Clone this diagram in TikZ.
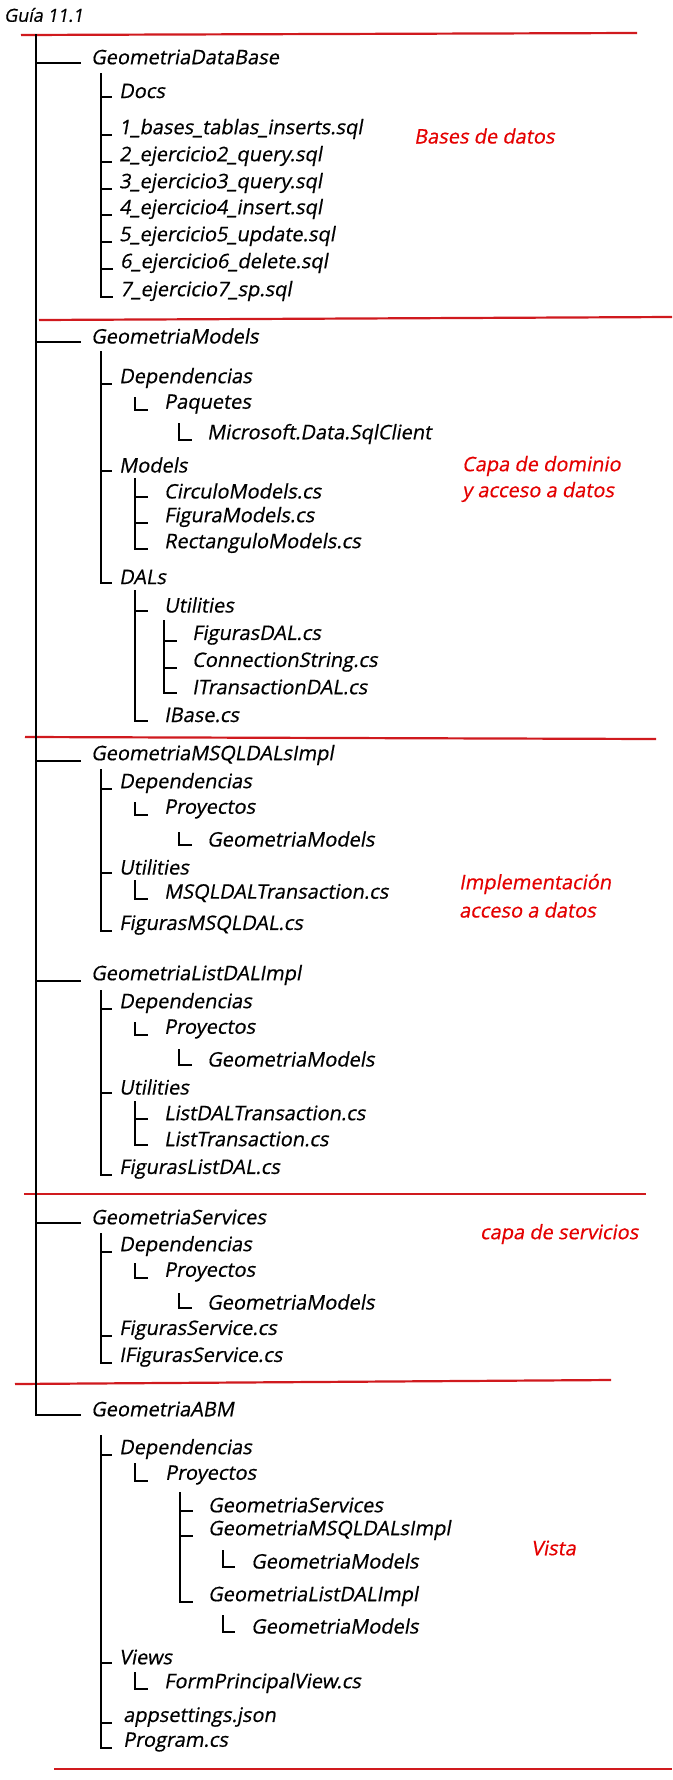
\documentclass[tikz,border=0pt]{standalone}
\usepackage{fontspec}
\newfontfamily\cf{Open Sans}[FakeSlant=0.18, FakeBold=0.6]
\definecolor{sepred}{RGB}{208,26,30}
\definecolor{labred}{RGB}{228,0,0}
\tikzset{
  it/.style={anchor=west, inner sep=0pt, font=\cf\fontsize{20}{24}\selectfont, text=black},
  lab/.style={anchor=west, inner sep=0pt, font=\cf\fontsize{20}{24}\selectfont, text=labred},
  br/.style={line width=2pt, black},
  sep/.style={line width=2.2pt, sepred}
}
\newcommand\brc[3]{\draw[br] (#1) |- ([shift={(-#3,-6pt)}]#2.west);}
\begin{document}
\begin{tikzpicture}[x=1pt,y=-1pt]
\useasboundingbox (0,0) rectangle (672,1780);
% title
\node[it, font=\cf\fontsize{18}{22}\selectfont] (title) at (4,15) {Guía 11.1};
% separators
\coordinate (s1a) at (21,35);   \coordinate (s1b) at (637,33);
\coordinate (s2a) at (39,320);  \coordinate (s2b) at (672,317);
\coordinate (s3a) at (25,737);  \coordinate (s3b) at (656,739);
\coordinate (s4a) at (24,1194); \coordinate (s4b) at (646,1194);
\coordinate (s5a) at (15,1384); \coordinate (s5b) at (611,1380);
\coordinate (s6a) at (54,1769); \coordinate (s6b) at (672,1769);
\foreach \i in {1,...,6} {\draw[sep] (s\i a) -- (s\i b);}
% top-level
\coordinate (m0) at (35.5,34);
\node[it] (db)   at (91,57)   {GeometriaDataBase};
\node[it] (gm)   at (91,336)  {GeometriaModels};
\node[it] (msql) at (91,755)  {GeometriaMSQLDALsImpl};
\node[it] (list) at (91,975)  {GeometriaListDALImpl};
\node[it] (serv) at (91,1217) {GeometriaServices};
\node[it] (abm)  at (91,1409) {GeometriaABM};
\foreach \n in {db,gm,msql,list,serv,abm} {\brc{m0}{\n}{10pt}}
% ---- section 1
\coordinate (v1) at (101,73);
\node[it] (docs) at (119,91)  {Docs};
\node[it] (q1)   at (119,129) {1\_bases\_tablas\_inserts.sql};
\node[it] (q2)   at (119,156) {2\_ejercicio2\_query.sql};
\node[it] (q3)   at (119,183) {3\_ejercicio3\_query.sql};
\node[it] (q4)   at (119,209) {4\_ejercicio4\_insert.sql};
\node[it] (q5)   at (119,236) {5\_ejercicio5\_update.sql};
\node[it] (q6)   at (120,263) {6\_ejercicio6\_delete.sql};
\node[it] (q7)   at (120,291) {7\_ejercicio7\_sp.sql};
\foreach \n in {docs,q1,q2,q3,q4,q5,q6,q7} {\brc{v1}{\n}{7pt}}
\node[lab] (l1) at (414,136) {Bases de datos};
% ---- section 2
\coordinate (v2) at (101,351);
\node[it] (dep2) at (119,378) {Dependencias};
\node[it] (paq)  at (164,404) {Paquetes};
\node[it] (msc)  at (207,434) {Microsoft.Data.SqlClient};
\node[it] (mods) at (119,465) {Models};
\node[it] (circ) at (164,491) {CirculoModels.cs};
\node[it] (fig)  at (164,517) {FiguraModels.cs};
\node[it] (rect) at (164,543) {RectanguloModels.cs};
\node[it] (dals) at (119,577) {DALs};
\node[it] (util2) at (164,605) {Utilities};
\node[it] (fdal) at (192,635) {FigurasDAL.cs};
\node[it] (conn) at (192,662) {ConnectionString.cs};
\node[it] (itd)  at (192,687) {ITransactionDAL.cs};
\node[it] (ibase) at (164,715) {IBase.cs};
\foreach \n in {dep2,mods,dals} {\brc{v2}{\n}{7pt}}
\coordinate (v2a) at (135,397); \brc{v2a}{paq}{16pt}
\coordinate (v2b) at (179,423); \brc{v2b}{msc}{15pt}
\coordinate (v2c) at (135,478);
\foreach \n in {circ,fig,rect} {\brc{v2c}{\n}{16pt}}
\coordinate (v2d) at (135,590);
\foreach \n in {util2,ibase} {\brc{v2d}{\n}{16pt}}
\coordinate (v2e) at (164,620);
\foreach \n in {fdal,conn,itd} {\brc{v2e}{\n}{15pt}}
\node[lab] (l2a) at (462,466) {Capa de dominio};
\node[lab] (l2b) at (462,492) {y acceso a datos};
% ---- section 3
\coordinate (v3) at (101,769);
\node[it] (dep3) at (119,783) {Dependencias};
\node[it] (pro3) at (164,809) {Proyectos};
\node[it] (gm3)  at (207,839) {GeometriaModels};
\node[it] (util3) at (119,867) {Utilities};
\node[it] (mtr)  at (164,893) {MSQLDALTransaction.cs};
\node[it] (fms)  at (119,925) {FigurasMSQLDAL.cs};
\foreach \n in {dep3,util3,fms} {\brc{v3}{\n}{7pt}}
\coordinate (v3a) at (135,802); \brc{v3a}{pro3}{16pt}
\coordinate (v3b) at (179,832); \brc{v3b}{gm3}{15pt}
\coordinate (v3c) at (135,880); \brc{v3c}{mtr}{16pt}
\node[lab] (l3a) at (459,884) {Implementación};
\node[lab] (l3b) at (459,910) {acceso a datos};
% ---- section 4
\coordinate (v4) at (101,990);
\node[it] (dep4) at (119,1003) {Dependencias};
\node[it] (pro4) at (164,1029) {Proyectos};
\node[it] (gm4)  at (207,1059) {GeometriaModels};
\node[it] (util4) at (119,1087) {Utilities};
\node[it] (ldt)  at (164,1113) {ListDALTransaction.cs};
\node[it] (lt)   at (164,1139) {ListTransaction.cs};
\node[it] (fld)  at (119,1169) {FigurasListDAL.cs};
\foreach \n in {dep4,util4,fld} {\brc{v4}{\n}{7pt}}
\coordinate (v4a) at (135,1022); \brc{v4a}{pro4}{16pt}
\coordinate (v4b) at (179,1049); \brc{v4b}{gm4}{15pt}
\coordinate (v4c) at (135,1101);
\foreach \n in {ldt,lt} {\brc{v4c}{\n}{16pt}}
% ---- section 5
\coordinate (v5) at (101,1233);
\node[it] (dep5) at (119,1246) {Dependencias};
\node[it] (pro5) at (164,1272) {Proyectos};
\node[it] (gm5)  at (207,1302) {GeometriaModels};
\node[it] (fs)   at (119,1330) {FigurasService.cs};
\node[it] (ifs)  at (119,1357) {IFigurasService.cs};
\foreach \n in {dep5,fs,ifs} {\brc{v5}{\n}{7pt}}
\coordinate (v5a) at (135,1263); \brc{v5a}{pro5}{16pt}
\coordinate (v5b) at (179,1293); \brc{v5b}{gm5}{15pt}
\node[lab] (l5) at (480,1234) {capa de servicios};
% ---- section 6
\coordinate (v6) at (101,1435);
\node[it] (dep6) at (119,1449) {Dependencias};
\node[it] (pro6) at (165,1475) {Proyectos};
\node[it] (gs6)  at (208,1505) {GeometriaServices};
\node[it] (gms6) at (208,1530) {GeometriaMSQLDALsImpl};
\node[it] (gm6a) at (251,1561) {GeometriaModels};
\node[it] (gl6)  at (208,1596) {GeometriaListDALImpl};
\node[it] (gm6b) at (251,1626) {GeometriaModels};
\node[it] (views) at (119,1657) {Views};
\node[it] (fpv)  at (164,1683) {FormPrincipalView.cs};
\node[it] (apps) at (123,1717) {appsettings.json};
\node[it] (prog) at (123,1742) {Program.cs};
\brc{v6}{dep6}{7pt}
\brc{v6}{views}{7pt}
\brc{v6}{apps}{11pt}
\brc{v6}{prog}{11pt}
\coordinate (v6a) at (135,1463); \brc{v6a}{pro6}{17pt}
\coordinate (v6b) at (180,1492);
\foreach \n in {gs6,gms6,gl6} {\brc{v6b}{\n}{15pt}}
\coordinate (v6c) at (223,1550); \brc{v6c}{gm6a}{16pt}
\coordinate (v6d) at (223,1615); \brc{v6d}{gm6b}{16pt}
\coordinate (v6e) at (135,1672); \brc{v6e}{fpv}{16pt}
\node[lab] (l6) at (531,1548) {Vista};
\end{tikzpicture}
\end{document}
